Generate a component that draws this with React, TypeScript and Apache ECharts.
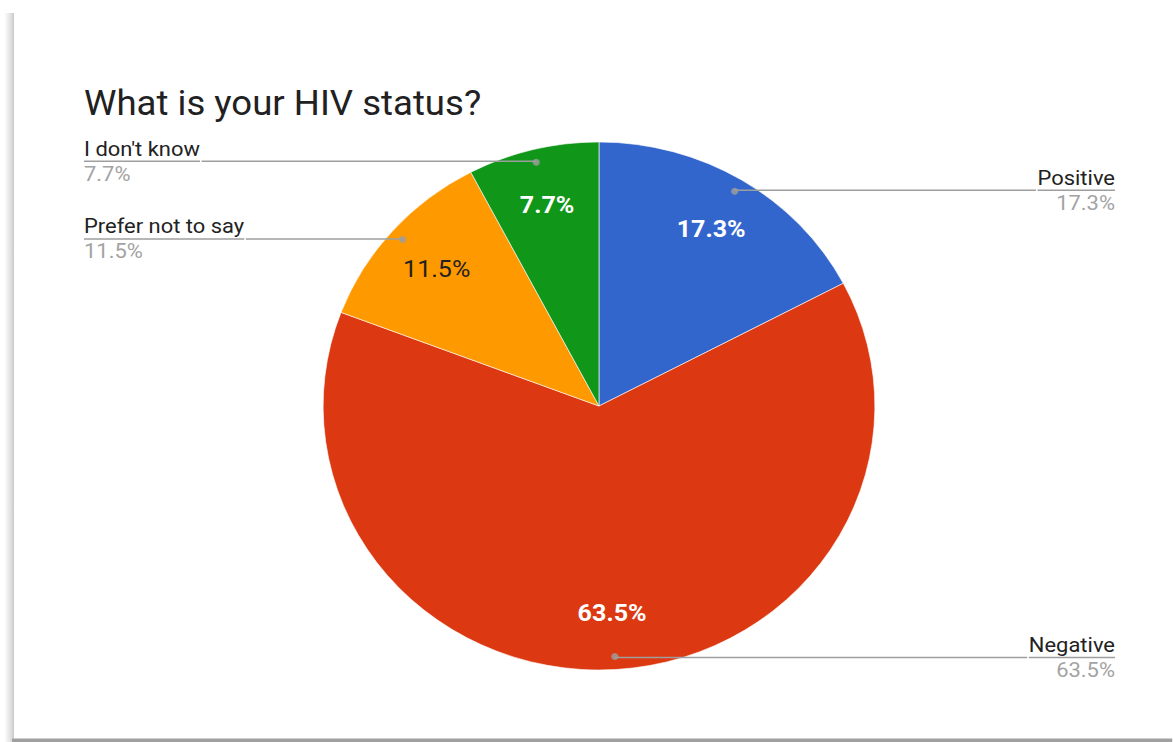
import React, { useEffect, useRef } from "react";
import * as echarts from "echarts";

// ---- data ----
const TITLE = "What is your HIV status?";
const categories = ["Positive", "Negative", "Prefer not to say", "I don't know"];
const counts = [9, 33, 6, 4];
const sliceColors = ["#3366cc", "#dc3912", "#ff9900", "#109618"];
const insideLabelColors = ["#ffffff", "#ffffff", "#222222", "#ffffff"];

const total = counts.reduce((a, b) => a + b, 0);

// the reference picture is slightly stretched horizontally
const STRETCH = 1.045;
const PAGE_W = 1173;
const PAGE_H = 742;
const DESIGN_W = Math.round(PAGE_W / STRETCH);

function buildOption() {
  const W = DESIGN_W;
  const R = 264;
  const DOT_R = 251;
  const CX = 599 / STRETCH;
  const CY = 406;
  const LABEL_LEFT = 84 / STRETCH;
  const LABEL_RIGHT = W - 1115 / STRETCH;
  const EDGE = 10;
  const SER_LEFT = LABEL_LEFT - EDGE;
  const SER_RIGHT = LABEL_RIGHT - EDGE;

  const pieBox = { left: SER_LEFT, right: SER_RIGHT, top: 0, bottom: 0 };
  const pieCenter = [CX - SER_LEFT, CY];

  const sliceData = categories.map((name, i) => ({
    name,
    value: counts[i],
    itemStyle: { color: sliceColors[i] },
  }));

  const insideData = categories.map((name, i) => ({
    name,
    value: counts[i],
    label: {
      color: insideLabelColors[i],
      fontWeight: insideLabelColors[i] === "#ffffff" ? "bold" : "normal",
    },
  }));

  const outsideData = categories.map((name, i) => ({ name, value: counts[i] }));

  let acc = 0;
  const dotData = counts.map((v) => {
    const mid = acc + v / 2;
    acc += v;
    return [1, mid];
  });

  return {
    animation: false,
    backgroundColor: "#ffffff",
    title: {
      text: TITLE,
      left: LABEL_LEFT,
      top: 83,
      padding: 0,
      textStyle: {
        fontFamily: "Roboto",
        fontSize: 35,
        fontWeight: "normal",
        color: "#212121",
        lineHeight: 40,
      },
    },
    polar: { center: [CX, CY], radius: DOT_R },
    angleAxis: { type: "value", min: 0, max: total, startAngle: 90, clockwise: true, show: false },
    radiusAxis: { type: "value", min: 0, max: 1, show: false },
    graphic: [
      {
        type: "rect",
        z: -10,
        shape: { x: 4.8, y: 13, width: 8.6, height: PAGE_H - 13 },
        style: {
          fill: new echarts.graphic.LinearGradient(0, 0, 1, 0, [
            { offset: 0, color: "#fbfbfb" },
            { offset: 0.6, color: "#e2e2e2" },
            { offset: 1, color: "#c9c9c9" },
          ]),
        },
        silent: true,
      },
      {
        type: "rect",
        z: -10,
        shape: { x: 11.5, y: 738.5, width: W - 11.5, height: 3.5 },
        style: { fill: "#a0a0a0" },
        silent: true,
      },
    ],
    series: [
      {
        type: "pie",
        ...pieBox,
        center: pieCenter,
        radius: R,
        startAngle: 90,
        clockwise: true,
        data: sliceData,
        label: { show: false },
        labelLine: { show: false },
        itemStyle: { borderColor: "#ffffff", borderWidth: 0.6 },
        emphasis: { disabled: true },
        silent: true,
        z: 2,
      },
      {
        type: "pie",
        ...pieBox,
        center: pieCenter,
        radius: [145, R],
        startAngle: 90,
        clockwise: true,
        percentPrecision: 1,
        avoidLabelOverlap: false,
        data: insideData,
        itemStyle: { color: "rgba(0,0,0,0)", borderWidth: 0 },
        label: {
          show: true,
          position: "inside",
          formatter: "{d}%",
          fontFamily: "Roboto",
          fontSize: 24,
        },
        labelLine: { show: false },
        emphasis: { disabled: true },
        silent: true,
        z: 4,
      },
      {
        type: "pie",
        ...pieBox,
        center: pieCenter,
        radius: DOT_R,
        startAngle: 90,
        clockwise: true,
        percentPrecision: 1,
        data: outsideData,
        itemStyle: { color: "rgba(0,0,0,0)", borderWidth: 0 },
        label: {
          show: true,
          position: "outside",
          alignTo: "edge",
          edgeDistance: EDGE,
          distanceToLabelLine: 0,
          formatter: "{n|{b}}\n{hr|}\n{v|{d}%}\n{s|}",
          fontFamily: "Roboto",
          rich: {
            n: { fontFamily: "Roboto", fontSize: 21, lineHeight: 26, color: "#222222" },
            hr: { width: "100%", height: 0, borderWidth: 1.5, borderColor: "#9e9e9e" },
            v: { fontFamily: "Roboto", fontSize: 21, lineHeight: 24, color: "#a3a3a3" },
            s: { height: 2, lineHeight: 2 },
          },
        },
        labelLine: {
          show: true,
          length: 1,
          length2: 5,
          minTurnAngle: 0,
          maxSurfaceAngle: 180,
          lineStyle: { color: "#9e9e9e", width: 1.5 },
        },
        emphasis: { disabled: true },
        silent: true,
        z: 3,
      },
      {
        type: "scatter",
        coordinateSystem: "polar",
        data: dotData,
        symbol: "circle",
        symbolSize: 7,
        itemStyle: { color: "#9e9e9e" },
        emphasis: { disabled: true },
        silent: true,
        z: 5,
      },
    ],
  };
}

export default function App() {
  const ref = useRef<HTMLDivElement>(null);
  useEffect(() => {
    if (!ref.current) return;
    const chart = echarts.init(ref.current, null, { renderer: "svg" });
    chart.setOption(buildOption() as any);
    return () => chart.dispose();
  }, []);
  return (
    <div style={{ position: "fixed", left: 0, top: 0, width: PAGE_W, height: PAGE_H, background: "#ffffff", overflow: "hidden" }}>
      <div
        ref={ref}
        style={{
          width: DESIGN_W,
          height: PAGE_H,
          transform: `scaleX(${STRETCH})`,
          transformOrigin: "0 0",
        }}
      />
    </div>
  );
}
